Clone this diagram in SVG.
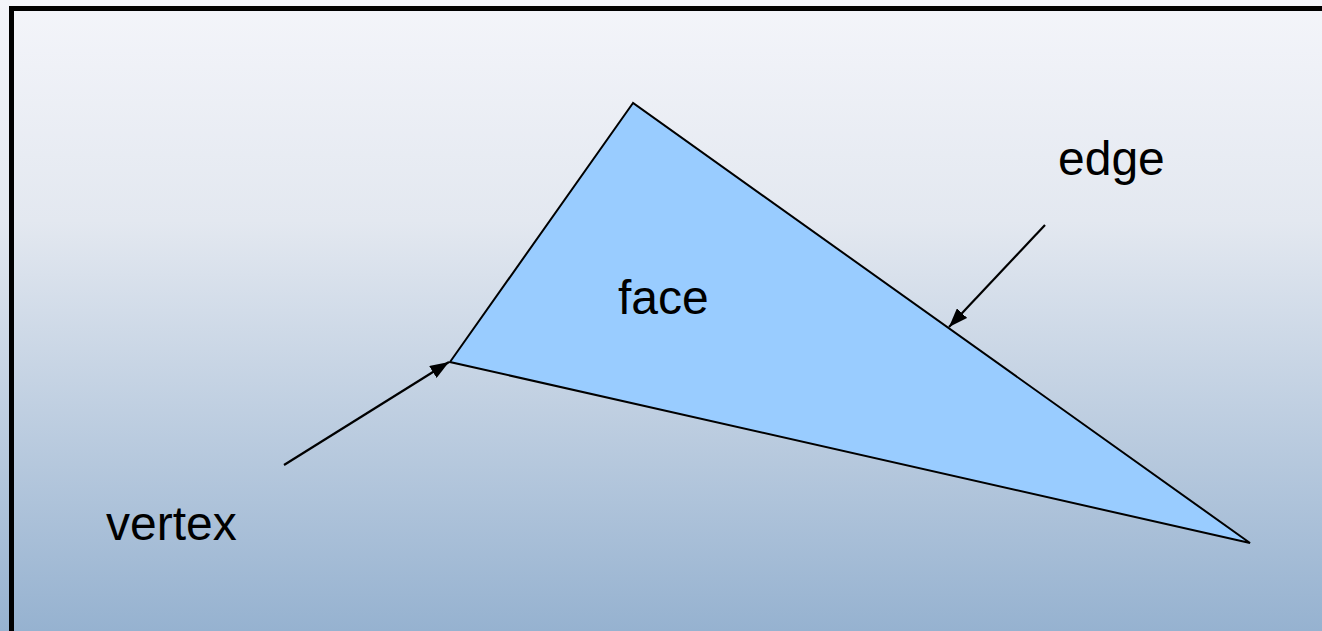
<svg xmlns="http://www.w3.org/2000/svg" width="1322" height="631" viewBox="0 0 1322 631">
<defs>
<linearGradient id="bg" x1="0" y1="0" x2="0" y2="1">
<stop offset="0" stop-color="#f4f5fa"/>
<stop offset="0.35" stop-color="#e3e8f0"/>
<stop offset="1" stop-color="#96b2d0"/>
</linearGradient>
<marker id="ah" viewBox="0 0 10 10" refX="10" refY="5" markerWidth="19" markerHeight="14" markerUnits="userSpaceOnUse" orient="auto" preserveAspectRatio="none">
<path d="M0,0 L10,5 L0,10 z" fill="#000"/>
</marker>
<style>
.lbl{font-family:"Liberation Sans",Arial,sans-serif;font-size:48px;fill:#000}
.arr{stroke:#000;stroke-width:2.2;fill:none}
</style>
</defs>
<rect width="1322" height="631" fill="url(#bg)"/>
<path d="M11.5,631 V8.5 H1322" fill="none" stroke="#000" stroke-width="5"/>
<g id="face">
<polygon points="633,103 450,362 1250,543" fill="#99ccff" stroke="#000" stroke-width="2"/>
<text class="lbl" x="618" y="314">face</text>
</g>
<g id="edge">
<text class="lbl" x="1058" y="175">edge</text>
</g>
<g id="vertex">
<text class="lbl" x="106" y="540">vertex</text>
</g>
<g id="connectors">
<line class="arr" x1="284" y1="465" x2="449" y2="362" marker-end="url(#ah)"/>
<line class="arr" x1="1045" y1="225" x2="949" y2="327" marker-end="url(#ah)"/>
</g>
</svg>
